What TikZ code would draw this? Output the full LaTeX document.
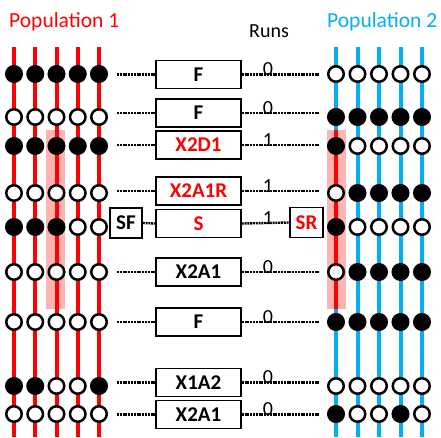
\documentclass[tikz,border=0pt]{standalone}
\usepackage{fontspec}
\setmainfont{Carlito}
\definecolor{popred}{HTML}{FF0000}
\definecolor{popblue}{HTML}{00B0F0}
\definecolor{marker}{HTML}{FFB3B3}
\begin{document}
\begin{tikzpicture}[x=1pt,y=-1pt,
  chrom/.style={line width=4pt},
  allele/.style={circle,draw=black,line width=2.5pt,minimum size=15.5pt,inner sep=0pt},
  opbox/.style={draw=black,line width=1.5pt,minimum width=85pt,minimum height=28pt,inner sep=0pt,
    font=\bfseries\fontsize{21}{21}\selectfont},
  sidebox/.style={draw=black,line width=1.5pt,minimum width=32pt,minimum height=30pt,inner sep=0pt,
    font=\bfseries\fontsize{21}{21}\selectfont},
  link/.style={line width=2.4pt,dash pattern=on 2pt off 0.8pt},
  runlabel/.style={anchor=base,font=\fontsize{20}{20}\selectfont,inner sep=0pt},
  title/.style={anchor=base west,font=\fontsize{21.5}{21.5}\selectfont,inner sep=0pt}]
\useasboundingbox (0,0) rectangle (441,437);

% titles
\node[title,text=popred] (t1) at (9,27) {Population 1};
\node[title,text=popblue] (t2) at (327,27) {Population 2};
\node[runlabel] (runs) at (269,37) {Runs};

% highlighted locus on both sides
\fill[marker] (46,130) rectangle (65,309);
\fill[marker] (327,130) rectangle (346,309);

% chromosome strands
\foreach \c in {0,...,4}{
  \draw[chrom,popred] ({14+21.25*\c},47) -- ({14+21.25*\c},437);
  \draw[chrom,popblue] ({336+21.5*\c},47) -- ({336+21.5*\c},437);
}
\draw[chrom,popred] (336,130) -- (336,309);

% alleles: row / y / population 1 / population 2
\foreach \r/\yy/\lp/\rp in {
  1/74/{1,1,1,1,1}/{0,0,0,0,0},
  2/117/{0,0,0,0,0}/{1,1,1,1,1},
  3/146/{1,1,1,1,1}/{1,0,0,0,0},
  4/193/{0,0,0,0,0}/{0,1,1,1,1},
  5/227/{1,1,1,0,0}/{1,0,0,0,0},
  6/272/{0,0,0,0,0}/{0,1,1,1,1},
  7/322/{0,0,0,0,0}/{1,1,1,1,1},
  8/386/{1,1,0,0,1}/{0,0,0,0,0},
  9/414/{0,0,0,0,0}/{1,0,0,1,0}}{
  \foreach \v [count=\c] in \lp {
    \ifnum\v=1 \def\fc{black}\else\def\fc{white}\fi
    \node[allele,fill=\fc] (L\r-\c) at ({14+21.25*(\c-1)},\yy) {};
  }
  \foreach \v [count=\c] in \rp {
    \ifnum\v=1 \def\fc{black}\else\def\fc{white}\fi
    \node[allele,fill=\fc] (R\r-\c) at ({336+21.5*(\c-1)},\yy) {};
  }
}

% operator boxes: row / centre y / label / colour / runs
\foreach \r/\by/\lab/\col/\n in {
  1/74.5/F/black/0,
  2/113/F/black/0,
  3/145/X2D1/popred/1,
  4/191/X2A1R/popred/1,
  5/223.5/S/popred/1,
  6/272/X2A1/black/0,
  7/322/F/black/0,
  8/382.5/X1A2/black/0,
  9/414.5/X2A1/black/0}{
  \node[opbox,text=\col] (b\r) at (198.5,\by) {\lab};
  \node[runlabel] (n\r) at (268,\by+1) {\n};
  \ifnum\r=5\relax\else
    \coordinate (l\r) at (117,\by);
    \coordinate (r\r) at (319,\by);
    \draw[link] (l\r) -- (b\r.west);
    \draw[link] (b\r.east) -- (r\r);
  \fi
}

% selection row side boxes
\node[sidebox] (sf) at (126,223) {SF};
\node[sidebox,text=popred,minimum width=33pt] (sr) at (306.5,222.5) {SR};
\draw[link] (sf.east) -- (b5.west);
\draw[link] (b5.east) -- (sr.west);
\end{tikzpicture}
\end{document}
